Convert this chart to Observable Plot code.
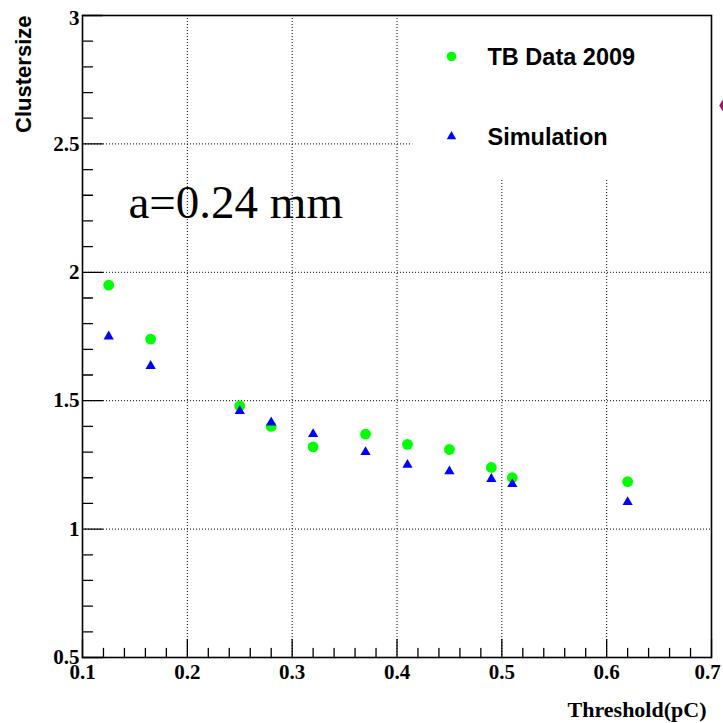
<!DOCTYPE html>
<html>
<head>
<meta charset="utf-8">
<script src="https://cdn.jsdelivr.net/npm/d3@7"></script>
<script src="https://cdn.jsdelivr.net/npm/@observablehq/plot@0.6"></script>
<style>
  html, body { margin: 0; padding: 0; background: #fff; }
  #chart svg { display: block; }
</style>
</head>
<body>
<div id="chart"></div>
<script>
// ---- data ----
const thresholds = [0.125, 0.165, 0.25, 0.28, 0.32, 0.37, 0.41, 0.45, 0.49, 0.51, 0.62];
const tbData2009 = [1.95, 1.74, 1.48, 1.40, 1.32, 1.37, 1.33, 1.31, 1.24, 1.20, 1.185];
const simulation = [1.75, 1.635, 1.46, 1.415, 1.37, 1.30, 1.25, 1.225, 1.195, 1.175, 1.105];
const seriesNames = ["TB Data 2009", "Simulation"];
const xTickLabels = [0.1, 0.2, 0.3, 0.4, 0.5, 0.6, 0.7];
const yTickLabels = [0.5, 1, 1.5, 2, 2.5, 3];
const xGridValues = [0.2, 0.3, 0.4, 0.5, 0.6];
const yGridValues = [1, 1.5, 2, 2.5];
const annotation = "a=0.24 mm";
const xTitle = "Threshold(pC)";
const yTitle = "Clustersize";

// ---- derived ----
const xMinor = d3.range(0.1, 0.7001, 0.02).map(v => +v.toFixed(3)).filter(v => !xTickLabels.some(t => Math.abs(t - v) < 1e-6));
const yMinor = d3.range(0.5, 3.0001, 0.1).map(v => +v.toFixed(3)).filter(v => !yTickLabels.some(t => Math.abs(t - v) < 1e-6));
const tb = thresholds.map((x, i) => ({x, y: tbData2009[i]}));
const sim = thresholds.map((x, i) => ({x, y: simulation[i]}));
const xLabelsMain = xTickLabels.slice(0, -1);
const xLabelLast = xTickLabels.slice(-1);
const yLabelsMain = yTickLabels.slice(0, -1);
const yLabelTop = yTickLabels.slice(-1);

const serif = "'Liberation Serif', 'Times New Roman', serif";
const sans = "'Liberation Sans', Arial, sans-serif";
const tickShape = {draw(ctx, l) { ctx.moveTo(0, 0); ctx.lineTo(0, -l); }};
const fmt = d => String(d);
const xLab = {x: d => d, y: 0.5, text: fmt, dy: 15, lineAnchor: "middle", fontFamily: serif, fontWeight: "bold", fontSize: 21, fill: "#000"};
const yLab = {x: 0.1, y: d => d, text: fmt, dx: -3, textAnchor: "end", lineAnchor: "middle", fontFamily: serif, fontWeight: "bold", fontSize: 21, fill: "#000"};

const legendBox = {x1: 0.415, x2: 0.7, y1: 2.365, y2: 3};

const chart = Plot.plot({
  width: 723,
  height: 723,
  marginLeft: 82,
  marginRight: 12,
  marginTop: 15,
  marginBottom: 66,
  x: {domain: [0.1, 0.7], axis: null},
  y: {domain: [0.5, 3], axis: null},
  style: {background: "white"},
  marks: [
    // grid
    Plot.ruleX(xGridValues, {x: d => d, stroke: "#000", strokeWidth: 1, strokeDasharray: "1,2"}),
    Plot.ruleY(yGridValues, {y: d => d, stroke: "#000", strokeWidth: 1, strokeDasharray: "1,2"}),
    // legend background hides grid
    Plot.rect([legendBox], {x1: "x1", x2: "x2", y1: "y1", y2: "y2", fill: "white"}),
    Plot.frame({stroke: "#000", strokeWidth: 1.6}),
    // ticks (inward)
    Plot.vector(xTickLabels, {x: d => d, y: 0.5, length: 18, rotate: 0, anchor: "start", shape: tickShape, stroke: "#000", strokeWidth: 1.3}),
    Plot.vector(xMinor, {x: d => d, y: 0.5, length: 9, rotate: 0, anchor: "start", shape: tickShape, stroke: "#000", strokeWidth: 1.3}),
    Plot.vector(yTickLabels, {x: 0.1, y: d => d, length: 20, rotate: 90, anchor: "start", shape: tickShape, stroke: "#000", strokeWidth: 1.3}),
    Plot.vector(yMinor, {x: 0.1, y: d => d, length: 10, rotate: 90, anchor: "start", shape: tickShape, stroke: "#000", strokeWidth: 1.3}),
    // tick labels
    Plot.text(xLabelsMain, xLab),
    Plot.text(xLabelLast, {...xLab, dx: -4}),
    Plot.text(yLabelsMain, yLab),
    Plot.text(yLabelTop, {...yLab, dy: 3}),
    // axis titles
    Plot.text([xTitle], {frameAnchor: "bottom-right", text: d => d, dx: -5, dy: 52, textAnchor: "end", lineAnchor: "middle", fontFamily: serif, fontWeight: "bold", fontSize: 22, fill: "#000"}),
    Plot.text([yTitle], {frameAnchor: "top-left", text: d => d, dx: -59, dy: 0, rotate: -90, textAnchor: "end", lineAnchor: "middle", fontFamily: sans, fontWeight: "bold", fontSize: 22, fill: "#000"}),
    // annotation
    Plot.text([annotation], {frameAnchor: "top-left", text: d => d, dx: 46, dy: 187, textAnchor: "start", lineAnchor: "middle", fontFamily: serif, fontSize: 47, fill: "#000"}),
    // data
    Plot.dot(tb, {x: "x", y: "y", r: 5.4, fill: "#00ff00", symbol: "circle"}),
    Plot.dot(sim, {x: "x", y: "y", r: 3.8, fill: "#0000ff", symbol: "triangle"}),
    // legend
    Plot.dot([seriesNames[0]], {frameAnchor: "top-left", dx: 369, dy: 41, r: 4.8, fill: "#00ff00", symbol: "circle"}),
    Plot.dot([seriesNames[1]], {frameAnchor: "top-left", dx: 369, dy: 121, r: 3.5, fill: "#0000ff", symbol: "triangle"}),
    Plot.text([seriesNames[0]], {frameAnchor: "top-left", text: d => d, dx: 405, dy: 42, textAnchor: "start", lineAnchor: "middle", fontFamily: sans, fontWeight: "bold", fontSize: 23.5, fill: "#000"}),
    Plot.text([seriesNames[1]], {frameAnchor: "top-left", text: d => d, dx: 405, dy: 122, textAnchor: "start", lineAnchor: "middle", fontFamily: sans, fontWeight: "bold", fontSize: 23.5, fill: "#000"}),
    // partially visible marker at right edge
    Plot.dot([0], {frameAnchor: "top-right", dx: 11, dy: 90, r: 3.4, fill: "#9b1b5a", symbol: "diamond"})
  ]
});
document.getElementById("chart").appendChild(chart);
</script>
</body>
</html>
